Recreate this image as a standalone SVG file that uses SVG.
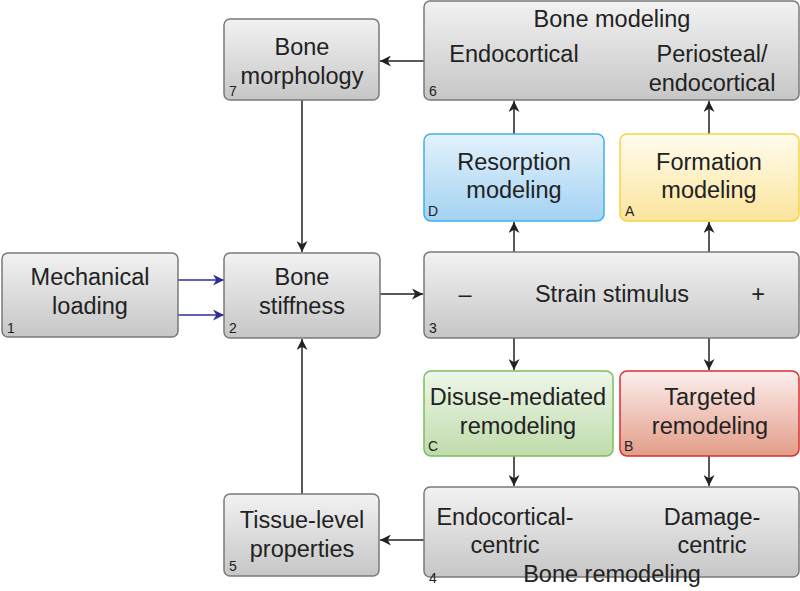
<svg xmlns="http://www.w3.org/2000/svg" width="800" height="591" viewBox="0 0 800 591">
<defs>
<linearGradient id="gGray" x1="0" y1="0" x2="0" y2="1"><stop offset="0" stop-color="#f2f2f2"/><stop offset="1" stop-color="#c6c6c6"/></linearGradient>
<linearGradient id="gBlue" x1="0" y1="0" x2="0" y2="1"><stop offset="0" stop-color="#e4f2fc"/><stop offset="1" stop-color="#a3d2f2"/></linearGradient>
<linearGradient id="gYellow" x1="0" y1="0" x2="0" y2="1"><stop offset="0" stop-color="#fffcee"/><stop offset="1" stop-color="#fbe59c"/></linearGradient>
<linearGradient id="gGreen" x1="0" y1="0" x2="0" y2="1"><stop offset="0" stop-color="#eef6ea"/><stop offset="1" stop-color="#bfdcab"/></linearGradient>
<linearGradient id="gRed" x1="0" y1="0" x2="0" y2="1"><stop offset="0" stop-color="#fcefee"/><stop offset="1" stop-color="#e39c88"/></linearGradient>
<marker id="ah" viewBox="0 0 10 10" refX="10" refY="5" markerWidth="11" markerHeight="11" markerUnits="userSpaceOnUse" orient="auto"><path d="M0,0 L10,5 L0,10 L3,5 z" fill="#222"/></marker>
<marker id="ahb" viewBox="0 0 10 10" refX="10" refY="5" markerWidth="11" markerHeight="11" markerUnits="userSpaceOnUse" orient="auto"><path d="M0,0 L10,5 L0,10 L3,5 z" fill="#2e2e9a"/></marker>
</defs>
<style>
.box{stroke:#7a7a7a;stroke-width:1.5;fill:url(#gGray)}
.blue{stroke:#3db1ea;fill:url(#gBlue)}
.yellow{stroke:#f6d445;fill:url(#gYellow)}
.green{stroke:#78c05a;fill:url(#gGreen)}
.red{stroke:#d62f2f;fill:url(#gRed)}
text{font-family:"Liberation Sans",Arial,sans-serif;fill:#222}
.t{font-size:23.5px;text-anchor:middle}
.n{font-size:14px}
.c{fill:none;stroke:#222;stroke-width:1.5;marker-end:url(#ah)}
.cb{fill:none;stroke:#2e2e9a;stroke-width:1.5;marker-end:url(#ahb)}
</style>
<g id="connectors">
<path class="c" d="M425,61 L380,61"/>
<path class="c" d="M302,100 L302,252"/>
<path class="c" d="M302,494 L302,339"/>
<path class="c" d="M425,540 L380,540"/>
<path class="cb" d="M178,280 L224,280"/>
<path class="cb" d="M178,315 L224,315"/>
<path class="c" d="M380,294 L423,294"/>
<path class="c" d="M514,252 L514,222"/>
<path class="c" d="M514,134 L514,101"/>
<path class="c" d="M709,252 L709,222"/>
<path class="c" d="M709,134 L709,101"/>
<path class="c" d="M514,338 L514,370"/>
<path class="c" d="M514,456 L514,486"/>
<path class="c" d="M709,338 L709,370"/>
<path class="c" d="M709,456 L709,486"/>
</g>
<g id="n1">
<rect class="box" x="2" y="253" width="176" height="84" rx="6"/>
<text class="t" x="90" y="285">Mechanical</text>
<text class="t" x="90" y="314">loading</text>
<text class="n" x="7" y="333">1</text>
</g>
<g id="n2">
<rect class="box" x="224" y="253" width="156" height="85" rx="6"/>
<text class="t" x="302" y="285">Bone</text>
<text class="t" x="302" y="314">stiffness</text>
<text class="n" x="229" y="333">2</text>
</g>
<g id="n3">
<rect class="box" x="424" y="252" width="375" height="86" rx="6"/>
<text class="t" x="465" y="302">–</text>
<text class="t" x="612" y="302">Strain stimulus</text>
<text class="t" x="758" y="302">+</text>
<text class="n" x="429" y="333">3</text>
</g>
<g id="n7">
<rect class="box" x="224" y="19" width="155" height="81" rx="6"/>
<text class="t" x="302" y="55">Bone</text>
<text class="t" x="302" y="84">morphology</text>
<text class="n" x="229" y="96">7</text>
</g>
<g id="n6">
<rect class="box" x="424" y="1" width="375" height="99" rx="6"/>
<text class="t" x="612" y="27">Bone modeling</text>
<text class="t" x="514" y="62">Endocortical</text>
<text class="t" x="712" y="62">Periosteal/</text>
<text class="t" x="712" y="91">endocortical</text>
<text class="n" x="429" y="96">6</text>
</g>
<g id="nD">
<rect class="box blue" x="424" y="134" width="180" height="87" rx="7"/>
<text class="t" x="514" y="170">Resorption</text>
<text class="t" x="514" y="198">modeling</text>
<text class="n" x="428" y="216">D</text>
</g>
<g id="nA">
<rect class="box yellow" x="620" y="134" width="179" height="87" rx="7"/>
<text class="t" x="709" y="170">Formation</text>
<text class="t" x="709" y="198">modeling</text>
<text class="n" x="625" y="216">A</text>
</g>
<g id="nC">
<rect class="box green" x="424" y="371" width="189" height="85" rx="7"/>
<text class="t" x="518" y="405">Disuse-mediated</text>
<text class="t" x="518" y="434">remodeling</text>
<text class="n" x="428" y="451">C</text>
</g>
<g id="nB">
<rect class="box red" x="620" y="371" width="179" height="85" rx="7"/>
<text class="t" x="710" y="405">Targeted</text>
<text class="t" x="710" y="434">remodeling</text>
<text class="n" x="624" y="451">B</text>
</g>
<g id="n5">
<rect class="box" x="224" y="494" width="155" height="82" rx="6"/>
<text class="t" x="302" y="528">Tissue-level</text>
<text class="t" x="302" y="557">properties</text>
<text class="n" x="229" y="571">5</text>
</g>
<g id="n4">
<rect class="box" x="424" y="487" width="375" height="90" rx="6"/>
<text class="t" x="505" y="525">Endocortical-</text>
<text class="t" x="505" y="553">centric</text>
<text class="t" x="712" y="525">Damage-</text>
<text class="t" x="712" y="553">centric</text>
<text class="t" x="612" y="582">Bone remodeling</text>
<text class="n" x="429" y="583">4</text>
</g>
</svg>
